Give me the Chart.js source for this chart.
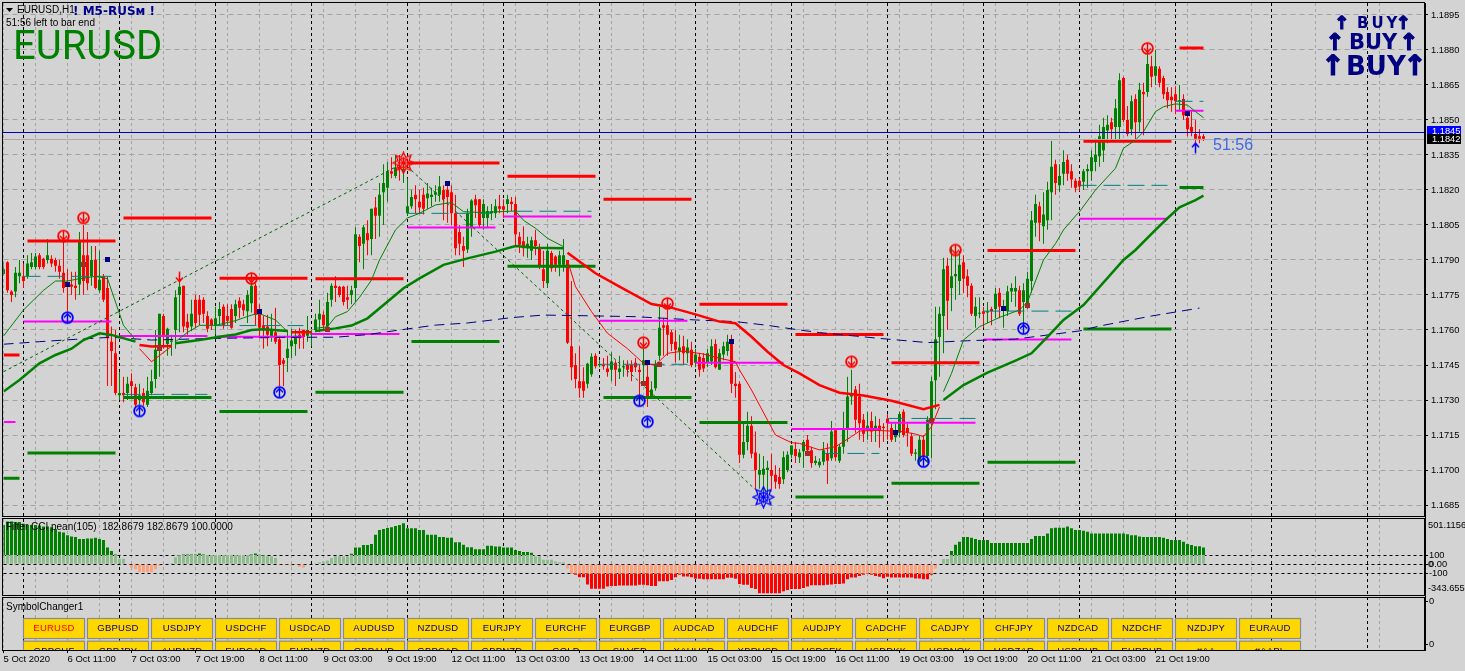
<!DOCTYPE html>
<html>
<head>
<meta charset="utf-8">
<title>EURUSD,H1</title>
<script src="https://cdn.jsdelivr.net/npm/chart.js@4"></script>
<style>
html, body { margin: 0; background: #d3d3d3; overflow: hidden; }
canvas { display: block; }
</style>
</head>
<body>
<canvas id="myChart" width="1465" height="671"></canvas>
<script>
// hourly bars, index 0 = 5 Oct 2020 19:00
var opens = [
1.1784,1.1789,1.17765,1.17765,1.1783,1.1783,1.1783,1.1787,1.1787,1.1792,
1.17905,1.179,1.17905,1.179,1.17875,1.17845,1.17795,1.17795,1.1779,1.17795,
1.1792,1.1792,1.1783,1.179,1.1777,1.1783,1.1778,1.1755,1.175,1.1732,
1.1733,1.1733,1.1738,1.17355,1.173,1.1733,1.1728,1.1733,1.1739,1.17535,
1.1766,1.1754,1.1755,1.176,1.1775,1.1779,1.17635,1.17615,1.1773,1.1773,
1.1773,1.1766,1.17645,1.1762,1.1766,1.177,1.1766,1.1769,1.1766,1.17725,
1.1771,1.1768,1.17715,1.1779,1.1767,1.1762,1.17615,1.1757,1.1759,1.1756,
1.1747,1.1748,1.1753,1.1754,1.1758,1.176,1.17575,1.1758,1.176,1.17645,
1.17665,1.17615,1.1773,1.1779,1.17785,1.17785,1.1774,1.1775,1.1778,1.18,
1.1797,1.18015,1.1799,1.18125,1.1809,1.1819,1.1821,1.1828,1.1826,1.183,
1.1828,1.181,1.1813,1.1818,1.1815,1.1818,1.18165,1.1817,1.1818,1.1818,
1.182,1.182,1.1819,1.181,1.1802,1.1796,1.17945,1.1804,1.1816,1.1816,
1.1808,1.1808,1.181,1.181,1.1813,1.1813,1.1814,1.1815,1.1814,1.18,
1.1798,1.1795,1.1794,1.17985,1.1795,1.1786,1.178,1.1793,1.17915,1.1788,
1.1788,1.179,1.1753,1.1745,1.1738,1.1738,1.1737,1.1741,1.1749,1.1745,
1.1745,1.17435,1.1743,1.1746,1.1742,1.1744,1.1745,1.1745,1.1746,1.1743,
1.1745,1.174,1.17315,1.1735,1.1749,1.1762,1.1762,1.1759,1.1755,1.1751,
1.1753,1.175,1.17515,1.1746,1.17485,1.1748,1.1746,1.17465,1.1754,1.1743,
1.17495,1.1751,1.1755,1.1737,1.1737,1.17065,1.1712,1.1719,1.17075,1.1698,
1.1698,1.17,1.17,1.1698,1.1697,1.1696,1.17,1.17065,1.1709,1.17055,
1.1708,1.1713,1.17085,1.1703,1.1702,1.17035,1.1707,1.1705,1.1717,1.1704,
1.171,1.1718,1.17315,1.17345,1.17315,1.17215,1.1717,1.1721,1.1717,1.1719,
1.17185,1.1722,1.1718,1.1714,1.1716,1.1725,1.1718,1.17145,1.1707,1.1704,
1.1713,1.1706,1.17215,1.17385,1.1757,1.1766,1.17875,1.1778,1.1783,1.1781,
1.1789,1.1783,1.1779,1.1766,1.1767,1.1768,1.17675,1.1769,1.1769,1.1776,
1.17685,1.1768,1.17765,1.17765,1.1777,1.1772,1.1771,1.1781,1.1806,1.1813,
1.18045,1.1807,1.1819,1.1831,1.1822,1.1827,1.1833,1.1828,1.1824,1.1824,
1.18235,1.1828,1.1828,1.1832,1.18345,1.1837,1.18455,1.1849,1.1847,1.1847,
1.1868,1.185,1.1846,1.1859,1.1849,1.1862,1.1862,1.1873,1.1869,1.1872,
1.1868,1.1862,1.186,1.1861,1.1858,1.1859,1.1851,1.1847,1.1844,1.1843,1.1843
];
var highs = [
1.1789,1.17895,1.1777,1.1787,1.179,1.17885,1.1792,1.1793,1.1793,1.1793,
1.1791,1.1799,1.1792,1.1791,1.179,1.1798,1.1786,1.1785,1.1785,1.1802,
1.1805,1.1802,1.1796,1.1796,1.1794,1.1784,1.1783,1.17615,1.176,1.1742,
1.174,1.174,1.17415,1.1737,1.1737,1.1735,1.174,1.1743,1.176,1.1767,
1.1767,1.1761,1.1758,1.1777,1.1784,1.1779,1.1767,1.1773,1.1775,1.1775,
1.1774,1.1768,1.1765,1.177,1.1772,1.1771,1.1771,1.1771,1.1773,1.1774,
1.1773,1.1777,1.1782,1.178,1.1771,1.1766,1.17665,1.1767,1.17695,1.17575,
1.1748,1.176,1.17605,1.176,1.1761,1.176,1.1766,1.176,1.1767,1.1773,
1.1768,1.1776,1.178,1.1783,1.1779,1.1779,1.1779,1.1779,1.1804,1.1801,
1.1805,1.1807,1.1812,1.1817,1.1823,1.1831,1.1832,1.1834,1.1835,1.1835,
1.1833,1.1825,1.182,1.1822,1.182,1.1821,1.1823,1.1821,1.1822,1.1826,
1.1822,1.1823,1.1822,1.1818,1.1805,1.18,1.1812,1.1816,1.1818,1.1816,
1.1816,1.1813,1.1814,1.1816,1.1818,1.1816,1.1818,1.1817,1.1817,1.1802,
1.18045,1.18,1.18,1.1803,1.1797,1.1794,1.1797,1.1794,1.1792,1.1794,
1.1799,1.179,1.1781,1.175,1.1753,1.1744,1.1746,1.175,1.175,1.1747,
1.1748,1.1749,1.17505,1.1747,1.1749,1.1747,1.1747,1.1747,1.1748,1.1745,
1.1752,1.1745,1.1738,1.1747,1.177,1.1765,1.1769,1.176,1.176,1.1758,
1.17575,1.1756,1.1755,1.1752,1.175,1.175,1.1752,1.1756,1.1756,1.1752,
1.1755,1.1758,1.1758,1.1742,1.1738,1.1721,1.1725,1.1723,1.17165,1.1707,
1.1706,1.1704,1.1707,1.1702,1.1701,1.1708,1.1708,1.17105,1.1712,1.1709,
1.1713,1.1715,1.171,1.1706,1.1705,1.1712,1.17115,1.1721,1.1718,1.1711,
1.1725,1.174,1.1743,1.1736,1.1737,1.1724,1.1725,1.1725,1.1723,1.1722,
1.172,1.1724,1.172,1.172,1.1725,1.1726,1.172,1.1716,1.1709,1.1715,
1.1715,1.1723,1.174,1.177,1.177,1.1791,1.1791,1.1796,1.1792,1.1794,
1.1792,1.1786,1.178,1.1774,1.1774,1.177,1.1772,1.177,1.1778,1.1778,
1.1773,1.1779,1.178,1.1783,1.1779,1.178,1.1785,1.1811,1.1818,1.1815,
1.1819,1.18235,1.1841,1.1833,1.1831,1.1837,1.1835,1.1831,1.1825,1.1825,
1.1829,1.1831,1.1837,1.1842,1.1848,1.1851,1.1852,1.1851,1.1859,1.187,
1.18685,1.1856,1.18605,1.1861,1.1866,1.1866,1.18785,1.18775,1.188,1.1873,
1.1869,1.1864,1.1864,1.18645,1.1865,1.1861,1.1853,1.1854,1.185,1.1846,1.1844
];
var lows = [
1.17835,1.1776,1.1772,1.1774,1.178,1.1778,1.1782,1.1786,1.1786,1.1786,
1.1786,1.17885,1.1787,1.1785,1.1782,1.1776,1.1768,1.1775,1.1773,1.1775,
1.1775,1.1777,1.1779,1.17775,1.1776,1.1772,1.1736,1.1736,1.1732,1.173,
1.1729,1.173,1.1731,1.1727,1.1728,1.17275,1.1727,1.1732,1.1735,1.174,
1.1752,1.1749,1.1749,1.1752,1.1759,1.1759,1.1758,1.17595,1.1761,1.1762,
1.1763,1.1759,1.176,1.1758,1.1762,1.17605,1.1762,1.17605,1.1763,1.1765,
1.1766,1.1763,1.17675,1.1762,1.1757,1.1752,1.1753,1.1755,1.1754,1.1736,
1.1736,1.1742,1.1748,1.1749,1.1752,1.1752,1.1755,1.1753,1.1759,1.1759,
1.176,1.176,1.177,1.1772,1.1774,1.17705,1.1769,1.1771,1.1772,1.1789,
1.1786,1.1792,1.1792,1.1799,1.18,1.1805,1.1815,1.1825,1.1825,1.1824,
1.1823,1.1809,1.1812,1.181,1.181,1.18095,1.1812,1.1813,1.1815,1.1815,
1.1807,1.1806,1.1805,1.1792,1.1792,1.1787,1.1793,1.18,1.1808,1.1804,
1.1803,1.1804,1.1807,1.1808,1.181,1.1808,1.181,1.1811,1.1796,1.1793,
1.17915,1.1791,1.179,1.1792,1.1786,1.1778,1.1778,1.1785,1.1785,1.1783,
1.1785,1.1754,1.17385,1.1735,1.1731,1.1731,1.1735,1.174,1.17435,1.1744,
1.1743,1.174,1.1738,1.1736,1.1739,1.174,1.174,1.1738,1.1742,1.1732,
1.1738,1.1727,1.1731,1.1734,1.1747,1.1749,1.1749,1.1751,1.1746,1.1747,
1.1745,1.1746,1.1744,1.1744,1.174,1.1742,1.1744,1.1745,1.17435,1.1743,
1.1747,1.1749,1.1733,1.1731,1.1703,1.1705,1.17085,1.1705,1.1692,1.1692,
1.1691,1.169,1.1692,1.1692,1.1692,1.1694,1.1699,1.1705,1.1703,1.1703,
1.1701,1.1707,1.1701,1.1702,1.1701,1.1702,1.1694,1.1704,1.1704,1.1703,
1.1707,1.1712,1.1728,1.1716,1.1713,1.1712,1.1713,1.1712,1.1712,1.17095,
1.1712,1.1713,1.1712,1.1712,1.1714,1.1714,1.171,1.1706,1.1704,1.1702,
1.1703,1.1703,1.1705,1.1726,1.174,1.175,1.176,1.1768,1.1773,1.1775,
1.1776,1.1774,1.1766,1.1761,1.1765,1.1761,1.1763,1.1762,1.1765,1.1765,
1.1761,1.1766,1.1772,1.177,1.1766,1.1763,1.1769,1.1776,1.18,1.1798,
1.1797,1.1803,1.1807,1.1818,1.1819,1.1822,1.1824,1.1821,1.1819,1.18195,
1.182,1.1821,1.1824,1.1828,1.183,1.1832,1.184,1.1841,1.1841,1.1841,
1.1849,1.1843,1.18435,1.1841,1.1845,1.18435,1.186,1.1864,1.1865,1.1864,
1.1859,1.1855,1.18535,1.18525,1.1854,1.185,1.1843,1.1843,1.184,1.184,1.1841
];
var closes = [
1.1786,1.1777,1.1775,1.17845,1.17845,1.1781,1.17885,1.1789,1.17915,1.1787,
1.1787,1.1792,1.17885,1.17875,1.1785,1.1778,1.17785,1.17785,1.1778,1.1798,
1.1781,1.178,1.179,1.1778,1.17815,1.1773,1.17565,1.1751,1.1733,1.1733,
1.1732,1.1737,1.1736,1.1728,1.1732,1.1729,1.1734,1.1738,1.17515,1.1767,
1.1757,1.17605,1.17555,1.1774,1.17785,1.17615,1.1761,1.1767,1.1763,1.17665,
1.1767,1.17605,1.1762,1.1765,1.1769,1.1762,1.1764,1.1761,1.1771,1.17695,
1.17685,1.1775,1.1779,1.17665,1.1761,1.176,1.1758,1.176,1.1755,1.1745,
1.17455,1.1752,1.17555,1.17575,1.17565,1.1757,1.176,1.17585,1.17645,1.1767,
1.1762,1.1772,1.1779,1.1778,1.1775,1.1772,1.1773,1.1777,1.1801,1.1796,
1.1804,1.17985,1.1812,1.1809,1.1818,1.1823,1.1828,1.1827,1.18295,1.1829,
1.1829,1.1813,1.1817,1.1816,1.18125,1.1812,1.18185,1.1818,1.1819,1.18215,
1.1816,1.1817,1.181,1.1795,1.1797,1.1794,1.181,1.18155,1.18135,1.1805,
1.1814,1.1811,1.1811,1.1813,1.1812,1.18115,1.1816,1.1814,1.1801,1.17965,
1.1795,1.1797,1.17985,1.1796,1.1787,1.1781,1.1794,1.17865,1.1788,1.1792,
1.1792,1.17545,1.1744,1.1739,1.1735,1.1734,1.17455,1.17485,1.17445,1.1745,
1.17445,1.1742,1.17465,1.1743,1.17435,1.1744,1.1743,1.1742,1.1744,1.1742,
1.1747,1.17315,1.17345,1.17455,1.1761,1.1761,1.1758,1.1754,1.17515,1.17525,
1.175,1.17525,1.1745,1.17495,1.1743,1.17435,1.175,1.1753,1.1744,1.175,
1.1753,1.1755,1.1737,1.1736,1.17065,1.1712,1.1719,1.1707,1.17,1.17,
1.17005,1.1701,1.16975,1.1695,1.1694,1.17055,1.17065,1.17105,1.1706,1.17075,
1.1712,1.17085,1.1703,1.1704,1.17035,1.17085,1.1704,1.17165,1.17055,1.171,
1.1718,1.17315,1.1733,1.17215,1.172,1.17155,1.1719,1.17165,1.1719,1.1717,
1.1718,1.172,1.1713,1.1717,1.1724,1.1715,1.1716,1.1707,1.17075,1.1713,
1.1706,1.17215,1.1738,1.1756,1.1767,1.1786,1.17725,1.1783,1.1784,1.1788,
1.1782,1.1779,1.1767,1.177,1.1767,1.1767,1.1768,1.1768,1.17755,1.177,
1.177,1.17765,1.1778,1.1778,1.1767,1.1777,1.1782,1.1807,1.1814,1.1806,
1.18095,1.182,1.183,1.1823,1.1826,1.1832,1.1827,1.18245,1.1821,1.18215,
1.1828,1.1829,1.1834,1.1835,1.1843,1.1847,1.1848,1.1846,1.1855,1.1867,
1.185,1.1844,1.1858,1.1849,1.1863,1.1861,1.1874,1.18685,1.1873,1.1866,
1.1861,1.18585,1.18585,1.1858,1.18585,1.1852,1.1846,1.1845,1.1842,1.1842,1.1842
];

// Filter CCI pean(105), one value per bar
var cciValues = [
426,464,464,457,457,438,426,426,426,419,
408,408,400,381,351,343,313,302,294,275,
275,279,279,287,275,264,181,143,106,60,
60,5,-38,-53,-83,-83,-87,-87,-53,-15,
-11,3,11,75,98,106,106,106,106,117,
106,100,100,100,100,100,100,100,100,100,
100,100,106,117,102,94,87,87,68,-8,
-8,-8,-19,-8,-26,-38,0,0,8,23,
30,42,68,87,87,87,87,113,181,181,
208,208,219,321,370,381,392,400,415,426,
445,389,389,389,370,370,321,321,321,294,
294,287,287,238,238,211,185,185,162,162,
162,200,200,192,192,181,181,181,155,143,
132,132,125,87,87,49,49,49,30,23,
23,-45,-102,-113,-140,-140,-219,-264,-264,-264,
-264,-242,-234,-234,-230,-230,-230,-230,-230,-223,
-223,-226,-234,-234,-185,-185,-185,-170,-140,-113,
-132,-132,-140,-158,-158,-162,-162,-162,-162,-162,
-162,-147,-147,-158,-215,-223,-223,-257,-268,-313,
-313,-313,-313,-313,-313,-291,-279,-268,-268,-268,
-257,-242,-226,-226,-226,-226,-223,-219,-215,-215,
-208,-162,-143,-143,-128,-113,-106,-113,-128,-136,
-151,-136,-143,-143,-143,-143,-143,-143,-155,-155,
-162,-162,-113,-45,5,57,57,143,211,245,
294,294,287,275,264,264,264,230,230,230,
230,230,230,230,230,230,230,275,306,306,
306,332,389,396,396,396,408,389,370,370,
362,351,332,332,332,332,332,332,332,332,
332,325,313,313,302,294,294,294,294,294,
287,275,264,264,264,245,219,208,196,196,181
];

var timeLabels = ['5 Oct 2020','6 Oct 11:00','7 Oct 03:00','7 Oct 19:00','8 Oct 11:00','9 Oct 03:00','9 Oct 19:00','12 Oct 11:00','13 Oct 03:00','13 Oct 19:00','14 Oct 11:00','15 Oct 03:00','15 Oct 19:00','16 Oct 11:00','19 Oct 03:00','19 Oct 19:00','20 Oct 11:00','21 Oct 03:00','21 Oct 19:00'];
var priceTicks = [1.1895,1.188,1.1865,1.185,1.1835,1.182,1.1805,1.179,1.1775,1.176,1.1745,1.173,1.1715,1.17,1.1685];
var cciTicks = [100,0,-100];

// daily levels: first bar, last bar, price
var redLevels = [[0,4,1.17493],[6,28,1.17981],[30,52,1.1808],[54,76,1.17822],[78,100,1.1782],[101,124,1.18316],[126,148,1.18259],[150,172,1.1816],[174,196,1.1771],[198,220,1.17581],[222,244,1.1746],[246,268,1.17941],[270,292,1.18409],[294,300,1.18809]];
var greenLevels = [[0,4,1.16965],[6,28,1.17073],[30,52,1.17311],[54,76,1.17251],[78,100,1.17333],[102,124,1.17551],[126,148,1.17873],[150,172,1.17311],[174,196,1.17204],[198,220,1.16884],[222,244,1.16943],[246,268,1.17033],[270,292,1.17604],[294,300,1.18211]];
var magentaLevels = [[0,3,1.17206],[5,27,1.17636],[29,51,1.17574],[53,75,1.17571],[77,99,1.17583],[101,123,1.18039],[125,147,1.18086],[149,171,1.1764],[173,195,1.1746],[197,219,1.17176],[221,243,1.17203],[245,267,1.17559],[269,291,1.18077],[293,300,1.1854]];
var tealLevels = [[5,27,1.1783],[30,51,1.17324],[53,75,1.17619],[101,122,1.181],[128,147,1.18109],[149,171,1.17453],[205,219,1.17071],[221,243,1.17221],[245,267,1.17681],[269,291,1.1822],[293,300,1.1858]];

// moving averages, pieces of [bar, price]
var slowGreen = [
 [[0,1.17336],[4,1.17386],[9,1.17457],[13,1.17493],[17,1.1752],[20,1.17557],[24,1.17586],[27,1.17579],[33,1.1755]],
 [[43,1.17543],[49,1.17557],[54,1.17571],[58,1.17581],[62,1.176],[65,1.17603],[71,1.17596]],
 [[78,1.17596],[83,1.17607],[87,1.17619],[91,1.1765],[95,1.17707],[100,1.17779],[104,1.17821],[110,1.17879],[116,1.17907],[123,1.17936],[128,1.1796],[133,1.17953],[140,1.1795]],
 [[235,1.173],[240,1.17364],[246,1.17417],[253,1.17469],[257,1.175],[261,1.17571],[265,1.17643],[270,1.17707],[280,1.179],[283,1.17943],[288,1.18029],[291,1.18079],[294,1.18126],[298,1.18157],[300,1.18176]]
];
var slowRed = [
 [[34,1.17536],[37,1.17529],[42,1.17531]],
 [[72,1.1759],[77,1.1759]],
 [[141,1.17931],[148,1.17843],[154,1.17786],[162,1.17711],[166,1.177],[173,1.17667],[179,1.17636],[183,1.17629],[187,1.17571],[191,1.17507],[195,1.1745],[199,1.17414],[204,1.17364],[209,1.17331],[215,1.17319],[222,1.17297],[230,1.17261],[234,1.17279]]
];
var fastGreen = [
 [[0,1.17574],[5,1.17686],[10,1.1777],[13,1.1781],[16,1.1781],[19,1.1782],[23,1.1783],[26,1.1782],[28,1.1772],[30,1.1762],[33,1.17557]],
 [[43,1.1755],[46,1.1759],[49,1.1762],[53,1.1762],[58,1.1764],[62,1.17664],[64,1.1767],[68,1.17643],[71,1.17593]],
 [[78,1.17607],[81,1.17614],[83,1.17657],[86,1.17679],[89,1.1774],[92,1.17814],[94,1.179],[98,1.18029],[101,1.1808],[104,1.181],[108,1.18136],[112,1.18146],[115,1.18107],[119,1.18104],[124,1.18107],[128,1.1811],[130,1.1807],[133,1.18036],[136,1.17993],[140,1.17957]],
 [[235,1.17336],[237,1.17414],[240,1.17557],[244,1.17614],[249,1.17654],[254,1.17686],[256,1.1772],[260,1.179],[263,1.1797],[265,1.18029],[268,1.18089],[269,1.18107],[273,1.182],[278,1.18293],[280,1.18379],[283,1.18414],[285,1.1845],[288,1.18536],[290,1.18557],[293,1.18569],[296,1.18564],[298,1.18536],[300,1.1851]]
];
var fastRed = [
 [[34,1.1752],[37,1.17464],[42,1.1753]],
 [[141,1.179],[143,1.17786],[147,1.17679],[151,1.17586],[156,1.1752],[160,1.17457],[163,1.1745],[166,1.175],[170,1.1751],[175,1.17497],[179,1.17479],[183,1.17464],[184,1.17429],[187,1.17343],[191,1.17214],[193,1.1715],[197,1.17117],[199,1.17114],[204,1.17086],[208,1.171],[212,1.17143],[214,1.17167],[218,1.1717],[225,1.17164],[228,1.17154],[230,1.17143],[232,1.17186],[234,1.1727]]
];
var longMa = [[[0,1.17539],[9,1.1755],[18,1.1756],[27,1.17569],[37,1.17557],[53,1.17564],[74,1.17569],[83,1.17569],[91,1.1758],[99,1.176],[108,1.17621],[116,1.1763],[127,1.17653],[135,1.17664],[146,1.17661],[158,1.17657],[173,1.17643],[183,1.17636],[191,1.1762],[199,1.176],[204,1.17589],[219,1.17564],[231,1.17546],[241,1.17554],[253,1.17561],[269,1.17596],[274,1.17617],[287,1.1766],[299,1.17694]]];
var zigzag = [[[0,1.17421],[100,1.18316],[190,1.16884]]];

// signal marks: [bar, price]
var buyCircles = [[16,1.17653],[34,1.17253],[69,1.17333],[159,1.17297],[161,1.17207],[230,1.17036],[255,1.17606]];
var sellCircles = [[15,1.18003],[20,1.1808],[62,1.17821],[160,1.17546],[166,1.17714],[212,1.17464],[238,1.17943],[286,1.18807]];
var redStars = [[100,1.18316]];
var blueStars = [[190,1.16884]];
var navySquares = [[16,1.17793],[26,1.17903],[64,1.1768],[111,1.18229],[161,1.17461],[182,1.17551],[223,1.17161],[250,1.17691],[296,1.18529]];
var brownSquares = [[20,1.17881],[39,1.17521],[81,1.17603],[160,1.17371],[164,1.17454],[201,1.17071],[232,1.17213],[256,1.17703]];
var sellArrows = [[44,1.17829]];
var buyArrows = [[298,1.18379]];

var askPrice = 1.1845;
var bidPrice = 1.1842;

var symbolsTop = ['EURUSD','GBPUSD','USDJPY','USDCHF','USDCAD','AUDUSD','NZDUSD','EURJPY','EURCHF','EURGBP','AUDCAD','AUDCHF','AUDJPY','CADCHF','CADJPY','CHFJPY','NZDCAD','NZDCHF','NZDJPY','EURAUD'];
var symbolsBottom = ['GBPCHF','GBPJPY','AUDNZD','EURCAD','EURNZD','GBPAUD','GBPCAD','GBPNZD','GOLD','SILVER','XAUUSD','XBRUSD','USDSEK','USDDKK','USDNOK','USDZAR','USDRUB','EURRUB','#AA','#AAPL'];

var GREEN = '#008000', RED = '#ff0000', NAVY = '#000080', BLUE = '#0000ff';
var BG = '#d3d3d3', GRID = '#a3a3a3';

function levelPoints(rows) {
    var pts = [];
    rows.forEach(function (r) {
        pts.push({x: r[0], y: r[2]}, {x: r[1], y: r[2]}, {x: r[1], y: NaN});
    });
    return pts;
}
function pathPoints(pieces) {
    var pts = [];
    pieces.forEach(function (piece) {
        piece.forEach(function (p) { pts.push({x: p[0], y: p[1]}); });
        pts.push({x: piece[piece.length - 1][0], y: NaN});
    });
    return pts;
}
function markPoints(rows) {
    return rows.map(function (r) { return {x: r[0], y: r[1]}; });
}

function icon(size, draw) {
    var c = document.createElement('canvas');
    c.width = size; c.height = size;
    var g = c.getContext('2d');
    g.translate(size / 2, size / 2);
    draw(g);
    return c;
}
function circleArrow(color, up) {
    return icon(15, function (g) {
        var d = up ? 1 : -1;
        g.strokeStyle = color; g.lineWidth = 1.8;
        g.beginPath(); g.arc(0, 0, 5.4, 0, Math.PI * 2); g.stroke();
        g.lineWidth = 1.4;
        g.beginPath();
        g.moveTo(0, 5 * d); g.lineTo(0, -4 * d);
        g.moveTo(-3.5, 0); g.lineTo(0, -4 * d); g.lineTo(3.5, 0);
        g.stroke();
    });
}
function star(color) {
    return icon(23, function (g) {
        g.strokeStyle = color; g.lineWidth = 1.3;
        g.beginPath();
        for (var i = 0; i < 16; i++) {
            var a = i * Math.PI / 8, r = i % 2 ? 6 : 10.5;
            g[i ? 'lineTo' : 'moveTo'](Math.cos(a) * r, Math.sin(a) * r);
        }
        g.closePath(); g.stroke();
        g.beginPath(); g.arc(0, 0, 4.5, 0, Math.PI * 2); g.stroke();
        for (var j = 0; j < 4; j++) {
            g.rotate(Math.PI / 4);
            g.beginPath(); g.moveTo(-6, 0); g.lineTo(6, 0); g.stroke();
        }
    });
}
function square(color) {
    return icon(5, function (g) { g.fillStyle = color; g.fillRect(-2.5, -2.5, 5, 5); });
}
function arrow(color, up) {
    return icon(13, function (g) {
        var d = up ? 1 : -1;
        g.strokeStyle = color; g.lineWidth = 1.5;
        g.beginPath();
        g.moveTo(0, 5 * d); g.lineTo(0, -5 * d);
        g.moveTo(-3.5, -1 * d); g.lineTo(0, -5 * d); g.lineTo(3.5, -1 * d);
        g.stroke();
    });
}

function barRows(lo, hi) {
    return lo.map(function (v, i) { return {x: i, y: [v, hi[i]]}; });
}
function candleColor(ctx) {
    return closes[ctx.dataIndex] >= opens[ctx.dataIndex] ? GREEN : RED;
}
function lineSet(data, color, width, order, dash) {
    return {type: 'line', data: data, yAxisID: 'y', borderColor: color, borderWidth: width,
        borderDash: dash || [], pointRadius: 0, fill: false, tension: 0, order: order, spanGaps: false,
        borderCapStyle: 'butt'};
}
function markSet(rows, image, order) {
    return {type: 'line', data: markPoints(rows), yAxisID: 'y', showLine: false, pointStyle: image,
        pointRadius: 6, order: order || 1};
}
function cciSet(test, lowFn, highFn, color) {
    var rows = [];
    cciValues.forEach(function (v, i) {
        if (test(v)) rows.push({x: i, y: [lowFn(v), highFn(v)]});
    });
    return {type: 'bar', data: rows, yAxisID: 'y2', backgroundColor: color, barThickness: 3,
        grouped: false, inflateAmount: 0, order: 20};
}

var gridBars = [];
for (var b = 0; b <= 352; b += 8) gridBars.push(b);
var dayBars = [];
for (var d = 5; d <= 352; d += 24) dayBars.push(d);

function isDay(value) { return dayBars.indexOf(value) >= 0; }

// no automatic room for the first and last tick label
function fixWidth(scale) {
    scale.width = 40;
    scale.paddingTop = 0;
    scale.paddingBottom = 0;
}

function buySign(g, size, arrowSize, y, x1, xt, x2, spacing) {
    g.font = 'bold ' + arrowSize + 'px "DejaVu Sans"';
    g.textAlign = 'center';
    g.lineWidth = 1.2;
    g.strokeStyle = NAVY;
    [x1, x2].forEach(function (x) {
        g.fillText('↑', x, y);
        g.strokeText('↑', x, y);
    });
    g.font = 'bold ' + size + 'px "DejaVu Sans"';
    g.textAlign = 'left';
    g.letterSpacing = spacing + 'px';
    g.fillText('BUY', xt, y);
    g.letterSpacing = '0px';
}

var decor = {
    id: 'decor',
    afterDraw: function (chart) {
        var g = chart.ctx, sy = chart.scales.y;
        g.save();

        // price lines
        g.lineWidth = 1;
        g.strokeStyle = '#0000cd';
        var ya = Math.round(sy.getPixelForValue(askPrice)) + 0.5;
        g.beginPath(); g.moveTo(3, ya); g.lineTo(1425, ya); g.stroke();
        g.strokeStyle = '#a8a8a8';
        var yb = Math.round(sy.getPixelForValue(bidPrice)) + 0.5;
        g.beginPath(); g.moveTo(3, yb); g.lineTo(1425, yb); g.stroke();

        // panel frames
        g.strokeStyle = '#000';
        g.strokeRect(2.5, 2.5, 1422, 514);
        g.strokeRect(2.5, 518.5, 1422, 77);
        g.strokeRect(2.5, 597.5, 1422, 53);

        // symbol buttons
        g.save();
        g.beginPath(); g.rect(0, 0, 1465, 650); g.clip();
        g.textAlign = 'center'; g.textBaseline = 'middle';
        g.font = '9.5px "Liberation Sans"';
        g.letterSpacing = '0.2px';
        [symbolsTop, symbolsBottom].forEach(function (row, r) {
            row.forEach(function (name, i) {
                var x = 23 + 64 * i, y = 618 + 22.7 * r;
                g.fillStyle = '#ffd700';
                g.fillRect(x, y, 62, 21);
                g.strokeStyle = '#8a8a8a'; g.lineWidth = 1.2;
                g.strokeRect(x + 0.5, y + 0.5, 61, 20);
                g.fillStyle = (r === 0 && i === 0) ? RED : '#00008b';
                g.fillText(name, x + 31, y + 10.8);
            });
        });
        g.letterSpacing = '0px';
        g.restore();

        // price badges
        g.font = '9.3px "Liberation Sans"';
        g.textAlign = 'left'; g.textBaseline = 'middle';
        g.fillStyle = BLUE; g.fillRect(1427, 126, 34, 11);
        g.fillStyle = '#fff'; g.fillText(askPrice.toFixed(4), 1432, 131.5);
        g.fillStyle = '#000'; g.fillRect(1427, 134, 34, 10);
        g.fillStyle = '#fff'; g.fillText(bidPrice.toFixed(4), 1432, 139);

        // panel scale ends and texts
        g.fillStyle = '#000';
        g.fillText('501.1156', 1428, 525.5);
        g.fillText('-343.6550', 1428, 588.5);
        g.fillText('0', 1428, 564.5);
        g.font = '10px "Liberation Sans"';
        g.fillText('Filter CCI pean(105)  182.8679 182.8679 100.0000', 6, 527);
        g.fillText('SymbolChanger1', 6, 607);
        g.fillText('EURUSD,H1', 17, 10.5);
        g.fillText('51:56 left to bar end', 6, 23.5);
        g.beginPath(); g.moveTo(6, 8); g.lineTo(13, 8); g.lineTo(9.5, 12); g.closePath(); g.fill();

        g.fillStyle = '#00008b';
        g.font = 'bold 12px "DejaVu Sans"';
        g.fillText('! M5-RUSм !', 73, 12);

        g.fillStyle = GREEN;
        g.font = '40px Roboto';
        g.fillText('EURUSD', 13, 49);

        g.fillStyle = '#4169e1';
        g.font = '16px "Liberation Sans"';
        g.fillText('51:56', 1213, 146);

        // BUY signs
        g.fillStyle = NAVY;
        buySign(g, 15, 18, 24, 1341.5, 1357, 1403, 3);
        buySign(g, 21, 23, 44, 1335, 1349, 1409, 0);
        buySign(g, 26, 28, 68, 1333, 1346, 1415, 0);

        g.restore();
    }
};

var graphData = {
    type: 'bar',
    data: {
        datasets: [
            {type: 'bar', data: barRows(lows, highs), yAxisID: 'y', backgroundColor: candleColor, barThickness: 1,
                grouped: false, inflateAmount: 0, minBarLength: 1, order: 11},
            {type: 'bar', data: opens.map(function (v, i) { return {x: i, y: [Math.min(v, closes[i]), Math.max(v, closes[i])]}; }),
                yAxisID: 'y', backgroundColor: candleColor, barThickness: 3,
                grouped: false, inflateAmount: 0, minBarLength: 1, order: 10},

            cciSet(function (v) { return v > 0; }, function () { return 0; }, function (v) { return Math.min(v, 100); }, '#8fbc8f'),
            cciSet(function (v) { return v > 100; }, function () { return 100; }, function (v) { return v; }, GREEN),
            cciSet(function (v) { return v < 0; }, function () { return 0; }, function (v) { return Math.max(v, -100); }, '#ffa07a'),
            cciSet(function (v) { return v < -100; }, function () { return -100; }, function (v) { return v; }, RED),

            lineSet(levelPoints(tealLevels), '#008080', 1, 6, [17, 7]),
            lineSet(levelPoints(redLevels), RED, 3, 5),
            lineSet(levelPoints(greenLevels), GREEN, 3, 5),
            lineSet(levelPoints(magentaLevels), '#ff00ff', 2, 5),

            lineSet(pathPoints(zigzag), '#006400', 1, 4, [3, 3]),
            lineSet(pathPoints(longMa), NAVY, 1, 4, [10, 6]),
            lineSet(pathPoints(slowGreen), GREEN, 2.5, 3),
            lineSet(pathPoints(slowRed), RED, 2.5, 3),
            lineSet(pathPoints(fastGreen), GREEN, 1, 3),
            lineSet(pathPoints(fastRed), RED, 1, 3),

            markSet(buyCircles, circleArrow(BLUE, true)),
            markSet(sellCircles, circleArrow(RED, false)),
            markSet(redStars, star(RED)),
            markSet(blueStars, star(BLUE)),
            markSet(navySquares, square(NAVY)),
            markSet(brownSquares, square('#a52a2a')),
            markSet(sellArrows, arrow(RED, false)),
            markSet(buyArrows, arrow(BLUE, true))
        ]
    },
    options: {
        responsive: false,
        animation: false,
        events: [],
        devicePixelRatio: 1,
        layout: {autoPadding: false, padding: {left: 3.49, top: 3, right: 0, bottom: 0}},
        plugins: {legend: {display: false}, tooltip: {enabled: false}},
        scales: {
            x: {
                type: 'linear', offset: false, min: 0, max: 355.375,
                afterBuildTicks: function (scale) {
                    var all = gridBars.concat(dayBars).sort(function (a, b) { return a - b; });
                    scale.ticks = all.map(function (v) { return {value: v}; });
                },
                afterFit: function (scale) {
                    scale.height = 21;
                    scale.paddingLeft = 0;
                    scale.paddingRight = 0;
                },
                grid: {
                    offset: false, lineWidth: 1, tickLength: 3,
                    color: function (ctx) { return isDay(ctx.tick.value) ? '#000' : GRID; },
                    tickColor: function (ctx) { return ctx.tick.value % 16 === 0 ? '#000' : 'rgba(0,0,0,0)'; }
                },
                border: {color: '#000', dash: [3, 3]},
                ticks: {
                    autoSkip: false, maxRotation: 0, minRotation: 0, align: 'start', padding: 1,
                    color: '#000', font: {family: '"Liberation Sans"', size: 9.5},
                    callback: function (v) { return v % 16 === 0 ? timeLabels[v / 16] : ''; }
                }
            },
            y: {
                position: 'right', stack: 'panels', stackWeight: 515, weight: 1,
                min: 1.167943, max: 1.190014, afterFit: fixWidth,
                afterBuildTicks: function (scale) {
                    scale.ticks = priceTicks.map(function (v) { return {value: v}; });
                },
                grid: {color: GRID, tickColor: '#000', tickLength: 3},
                border: {color: '#000', dash: [5, 4]},
                ticks: {autoSkip: false, crossAlign: 'near', padding: 3, color: '#000',
                    font: {family: '"Liberation Sans"', size: 9.3},
                    callback: function (v) { return v.toFixed(4); }}
            },
            y2: {
                position: 'right', stack: 'panels', stackWeight: 78, weight: 2,
                min: -343.655, max: 501.1156, afterFit: fixWidth,
                afterBuildTicks: function (scale) {
                    scale.ticks = cciTicks.map(function (v) { return {value: v}; });
                },
                grid: {color: '#000', tickColor: '#000', tickLength: 3},
                border: {color: '#000', dash: [3, 3]},
                ticks: {autoSkip: false, crossAlign: 'near', padding: 1, color: '#000',
                    font: {family: '"Liberation Sans"', size: 9.3},
                    callback: function (v) { return v === 0 ? '0.00' : String(v); }}
            },
            y3: {
                position: 'right', stack: 'panels', stackWeight: 54, weight: 3,
                min: -0.14, max: 1.14, afterFit: fixWidth,
                afterBuildTicks: function (scale) {
                    scale.ticks = [{value: 0}, {value: 1}];
                },
                grid: {drawOnChartArea: false, tickColor: '#000', tickLength: 3},
                border: {color: '#000'},
                ticks: {autoSkip: false, crossAlign: 'near', padding: 1, color: '#000',
                    font: {family: '"Liberation Sans"', size: 9.3},
                    callback: function () { return '0'; }}
            }
        }
    },
    plugins: [decor, {
        id: 'paperColor',
        beforeDraw: function (chart) {
            chart.ctx.fillStyle = BG;
            chart.ctx.fillRect(0, 0, chart.width, chart.height);
        }
    }]
};

var ctx = document.getElementById('myChart').getContext('2d');
var myChart = new Chart(ctx, graphData);
</script>
</body>
</html>
